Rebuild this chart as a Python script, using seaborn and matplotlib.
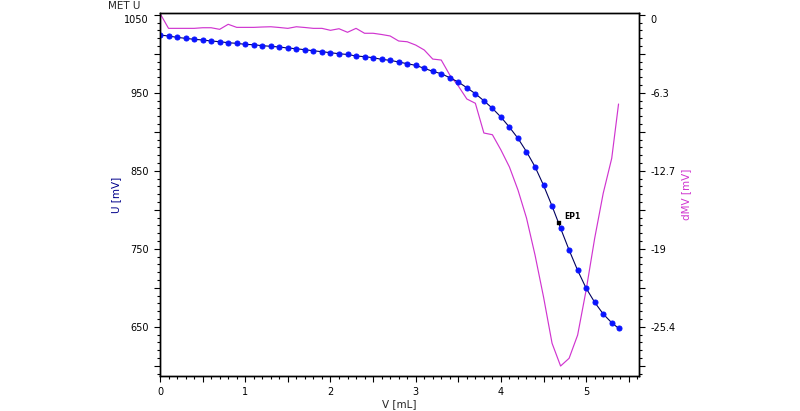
import numpy as np
import pandas as pd
import matplotlib
matplotlib.use("Agg")
import matplotlib.pyplot as plt
from matplotlib.ticker import MultipleLocator, FuncFormatter
import seaborn as sns

# titrant volume [mL], potential U [mV] and first derivative dMV [mV]
volume = [0.0, 0.1, 0.2, 0.3, 0.4, 0.5, 0.6, 0.7, 0.8, 0.9,
          1.0, 1.1, 1.2, 1.3, 1.4, 1.5, 1.6, 1.7, 1.8, 1.9,
          2.0, 2.1, 2.2, 2.3, 2.4, 2.5, 2.6, 2.7, 2.8, 2.9,
          3.0, 3.1, 3.2, 3.3, 3.4, 3.5, 3.6, 3.7, 3.8, 3.9,
          4.0, 4.1, 4.2, 4.3, 4.4, 4.5, 4.6, 4.7, 4.8, 4.9,
          5.0, 5.1, 5.2, 5.3, 5.38]
u_mv = [1024.0, 1022.7, 1021.0, 1019.7, 1018.5, 1017.6, 1016.3, 1015.4, 1014.1, 1013.3,
        1012.0, 1011.5, 1010.3, 1009.5, 1008.6, 1007.3, 1006.4, 1005.1, 1003.8, 1002.6,
        1001.3, 1000.0, 999.0, 997.1, 996.2, 994.9, 992.8, 991.5, 989.4, 987.2,
        985.1, 981.3, 977.4, 974.4, 969.2, 963.7, 956.4, 948.7, 939.7, 930.0,
        918.8, 905.8, 891.5, 874.4, 855.1, 831.3, 804.7, 776.2, 748.3, 722.3,
        699.3, 681.3, 666.3, 655.1, 648.0]
dmv = [0.11, -1.11, -1.11, -1.11, -1.11, -1.06, -1.06, -1.19, -0.78, -1.03,
       -1.03, -1.03, -1.00, -0.98, -1.04, -1.11, -0.98, -1.04, -1.11, -1.11,
       -1.27, -1.14, -1.43, -1.11, -1.51, -1.51, -1.61, -1.73, -2.14, -2.20,
       -2.47, -2.87, -3.61, -3.69, -4.91, -5.80, -6.86, -7.21, -9.63, -9.77,
       -11.01, -12.40, -14.27, -16.55, -19.56, -22.98, -26.75, -28.60, -27.97, -26.08,
       -22.41, -18.20, -14.54, -11.69, -7.27]

# end point
ep_volume = [4.68]
ep_u = [783.0]
ep_labels = ["EP1"]

# right axis tick labels (aligned with the left 1050..650 ticks)
dmv_ticks = [0, -6.35, -12.7, -19.05, -25.4]
dmv_tick_labels = ["0", "-6.3", "-12.7", "-19", "-25.4"]

df = pd.DataFrame(dict(V=volume, U=u_mv, dMV=dmv))
ep = pd.DataFrame(dict(V=ep_volume, U=ep_u))

sns.set_style("white")
plt.rcParams["font.family"] = ["DejaVu Sans"]
plt.rcParams["font.size"] = 7

magenta = "#d035d0"

fig = plt.figure(figsize=(8.0, 4.11), dpi=100)
ax = fig.add_axes([0.2, 0.0859, 0.59875, 0.8817])
ax2 = ax.twinx()

# derivative curve on the right axis
sns.lineplot(data=df, x="V", y="dMV", ax=ax2, color=magenta, linewidth=0.85,
             sort=False, legend=False)

# measured curve on the left axis
sns.lineplot(data=df, x="V", y="U", ax=ax, color="#000060", linewidth=0.8,
             marker="o", markersize=3.6, markerfacecolor="#0a14ff",
             markeredgecolor="#0a14ff", sort=False, legend=False)
sns.scatterplot(data=ep, x="V", y="U", ax=ax, color="black", marker="s", s=8,
                edgecolor="black", legend=False, zorder=5)
for x, y, lab in zip(ep_volume, ep_u, ep_labels):
    ax.annotate(lab, (x, y), xytext=(4, 3), textcoords="offset points",
                fontsize=5.5, fontweight="bold", color="black")

ax.set_zorder(ax2.get_zorder() + 1)
ax.patch.set_visible(False)

# limits
u_lo, u_hi = 587.2, 1051.8
ax.set_xlim(0, 5.62)
ax.set_ylim(u_lo, u_hi)
ax2.set_ylim((u_lo - 1050) * 0.0635, (u_hi - 1050) * 0.0635)

# x ticks
ax.xaxis.set_major_locator(MultipleLocator(0.5))
ax.xaxis.set_minor_locator(MultipleLocator(0.1))
ax.xaxis.set_major_formatter(
    FuncFormatter(lambda v, p: f"{v:.0f}" if abs(v - round(v)) < 1e-6 else ""))

# left y ticks
ax.yaxis.set_major_locator(MultipleLocator(50))
ax.yaxis.set_minor_locator(MultipleLocator(10))
ax.yaxis.set_major_formatter(
    FuncFormatter(lambda v, p: f"{v:.0f}" if round(v) % 100 == 50 else ""))

# right y ticks
mids = [(a + b) / 2 for a, b in zip(dmv_ticks[:-1], dmv_ticks[1:])] + [-28.575]
ax2.set_yticks(dmv_ticks + mids, dmv_tick_labels + [""] * len(mids))
ax2.yaxis.set_minor_locator(MultipleLocator(0.635))

for a in (ax, ax2):
    a.tick_params(which="major", direction="out", length=4, width=0.8,
                  colors="black", labelsize=7, pad=4)
    a.tick_params(which="minor", direction="out", length=2.5, width=0.8,
                  colors="black")
    for s in a.spines.values():
        s.set_color("black")
        s.set_linewidth(1.0)
ax.tick_params(axis="y", which="both", left=True, right=False)
ax.tick_params(axis="x", which="both", bottom=True)
ax2.tick_params(axis="y", which="both", right=True, left=False)

ax.set_xlabel("V [mL]", fontsize=7.5, labelpad=2)
ax.set_ylabel("U [mV]", fontsize=7.5, color="#00008b", labelpad=2)
ax2.set_ylabel("dMV [mV]", fontsize=7.5, color=magenta, labelpad=4)
fig.text(108 / 800, 1 - 6 / 411, "MET U", fontsize=7.5, ha="left", va="center")

# keep the top tick labels inside the frame, as in the instrument printout
fig.canvas.draw()
for lab in ax.get_yticklabels() + ax2.get_yticklabels():
    if lab.get_text() in ("1050", "0"):
        lab.set_verticalalignment("top")

fig.savefig("out.png", dpi=100)
